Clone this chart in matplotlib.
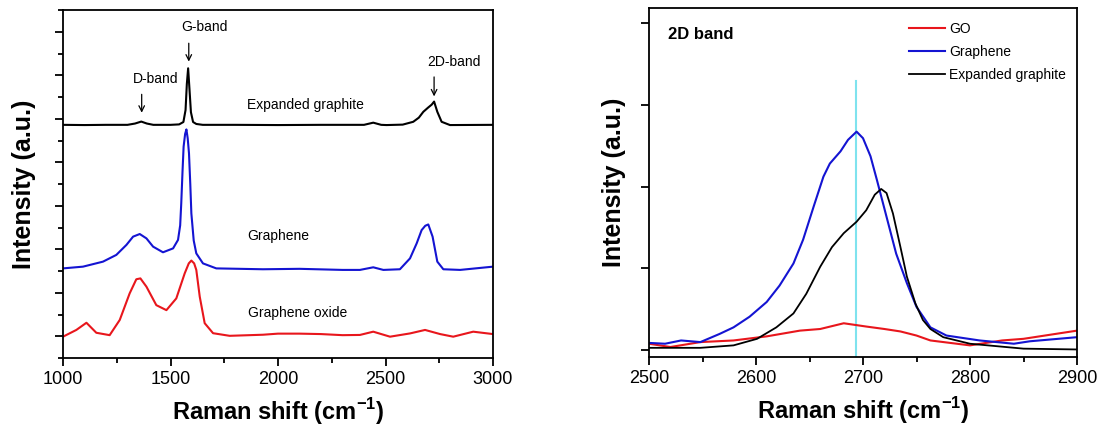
import numpy as np
import matplotlib
matplotlib.use("Agg")
import matplotlib.pyplot as plt
from matplotlib.ticker import MultipleLocator, FixedLocator

plt.rcParams['font.family'] = ['Liberation Sans', 'DejaVu Sans']
plt.rcParams['mathtext.fontset'] = 'custom'
plt.rcParams['mathtext.rm'] = 'Liberation Sans'
plt.rcParams['mathtext.bf'] = 'Liberation Sans:bold'

# --- left panel: full spectra (offset, a.u.) ---
eg_x = [1000, 1100, 1200, 1300, 1335, 1364, 1390, 1420, 1500, 1540, 1560, 1570,
        1576, 1582, 1588, 1595, 1605, 1620, 1650, 1800, 2000, 2200, 2400, 2443,
        2480, 2505, 2580, 2629, 2655, 2676, 2699, 2715, 2726, 2741, 2761, 2800, 3000]
eg_y = [10.72, 10.71, 10.72, 10.72, 10.78, 10.87, 10.78, 10.72, 10.72, 10.74, 10.85, 11.4,
        12.6, 13.32, 12.4, 11.3, 10.85, 10.76, 10.72, 10.72, 10.71, 10.72, 10.72, 10.82,
        10.72, 10.71, 10.73, 10.86, 11.05, 11.32, 11.52, 11.65, 11.79, 11.32, 10.86, 10.71, 10.72]

gr_x = [1000, 1093, 1186, 1248, 1295, 1326, 1357, 1388, 1419, 1465, 1512, 1535,
        1545, 1550, 1556, 1561, 1568, 1574, 1580, 1586, 1592, 1597, 1608, 1620,
        1651, 1713, 1930, 2100, 2300, 2381, 2443, 2490, 2567, 2614, 2645, 2668,
        2685, 2699, 2719, 2741, 2769, 2847, 3000]
gr_y = [4.12, 4.20, 4.43, 4.74, 5.20, 5.58, 5.70, 5.50, 5.12, 4.86, 5.04, 5.43,
        6.1, 7.11, 8.6, 9.72, 10.3, 10.51, 10.1, 9.41, 8.0, 6.65, 5.4, 4.81,
        4.35, 4.12, 4.08, 4.10, 4.05, 4.05, 4.17, 4.05, 4.08, 4.58, 5.27, 5.88,
        6.08, 6.14, 5.58, 4.43, 4.08, 4.05, 4.20]

go_x = [1000, 1062, 1109, 1155, 1217, 1264, 1310, 1341, 1360, 1388, 1434, 1481,
        1527, 1566, 1585, 1597, 1610, 1620, 1636, 1659, 1698, 1775, 1930, 2000,
        2100, 2200, 2300, 2381, 2443, 2521, 2614, 2684, 2754, 2815, 2908, 3000]
go_y = [0.98, 1.29, 1.62, 1.16, 1.05, 1.75, 2.97, 3.62, 3.66, 3.28, 2.43, 2.20,
        2.74, 3.89, 4.35, 4.48, 4.35, 4.05, 2.82, 1.60, 1.14, 1.02, 1.07, 1.12,
        1.12, 1.10, 1.05, 1.06, 1.21, 0.98, 1.13, 1.29, 1.10, 0.98, 1.21, 1.10]

# --- right panel: 2D band zoom ---
b_x = [2500, 2515, 2530, 2548, 2566, 2579, 2594, 2610, 2622, 2635, 2644, 2654,
       2663, 2669, 2679, 2686, 2694, 2700, 2707, 2713, 2722, 2731, 2741, 2750,
       2763, 2778, 2809, 2841, 2856, 2900]
b_y = [0.09, 0.08, 0.12, 0.10, 0.20, 0.28, 0.41, 0.59, 0.79, 1.06, 1.35, 1.76,
       2.12, 2.28, 2.43, 2.57, 2.67, 2.59, 2.37, 2.08, 1.63, 1.18, 0.82, 0.53,
       0.28, 0.18, 0.12, 0.08, 0.11, 0.16]

k_x = [2500, 2548, 2579, 2601, 2619, 2635, 2647, 2660, 2671, 2682, 2694, 2703,
       2711, 2717, 2722, 2728, 2735, 2741, 2749, 2756, 2763, 2775, 2800, 2850, 2900]
k_y = [0.03, 0.03, 0.06, 0.14, 0.28, 0.45, 0.69, 1.02, 1.26, 1.43, 1.57, 1.71,
       1.90, 1.97, 1.92, 1.67, 1.26, 0.90, 0.57, 0.37, 0.26, 0.16, 0.08, 0.02, 0.01]

r_x = [2500, 2520, 2548, 2579, 2610, 2641, 2660, 2682, 2703, 2720, 2735, 2750,
       2763, 2800, 2830, 2850, 2880, 2900]
r_y = [0.08, 0.04, 0.10, 0.12, 0.17, 0.24, 0.26, 0.33, 0.29, 0.26, 0.23, 0.18,
       0.12, 0.06, 0.12, 0.14, 0.20, 0.24]

peak_2d = 2693.5

RED = '#e8161c'
BLUE = '#1414d2'

fig = plt.figure(figsize=(11.05, 4.32), dpi=100)
ax1 = fig.add_axes([63/1105, 74/432, 430/1105, 348/432])
ax2 = fig.add_axes([649/1105, 75/432, 428/1105, 349/432])

# left
ax1.plot(eg_x, eg_y, color='black', lw=1.5)
ax1.plot(gr_x, gr_y, color=BLUE, lw=1.5)
ax1.plot(go_x, go_y, color=RED, lw=1.5)
ax1.set_xlim(1000, 3000)
ax1.set_ylim(0, 16)
ax1.xaxis.set_major_locator(MultipleLocator(500))
ax1.xaxis.set_minor_locator(MultipleLocator(250))
ax1.yaxis.set_major_locator(FixedLocator(np.arange(1, 16, 2)))
ax1.yaxis.set_minor_locator(FixedLocator(np.arange(0, 17, 2)))
ax1.set_yticklabels([])
ax1.tick_params(which='major', length=6, width=1.3, labelsize=13)
ax1.tick_params(which='minor', length=3.5, width=1.3)
ax1.set_xlabel('Raman shift (cm$^{\\mathbf{-1}}$)', fontsize=17, fontweight='bold', labelpad=6)
ax1.set_ylabel('Intensity (a.u.)', fontsize=18, fontweight='bold', labelpad=10)

ax1.text(1856, 11.64, 'Expanded graphite', fontsize=10, va='center', ha='left')
ax1.text(1856, 5.59, 'Graphene', fontsize=10, va='center', ha='left')
ax1.text(1860, 2.07, 'Graphene oxide', fontsize=10, va='center', ha='left')
arrow = dict(arrowstyle='->', color='black', lw=0.9)
ax1.annotate('', xy=(1585, 13.5), xytext=(1585, 14.6), arrowprops=arrow)
ax1.text(1660, 15.2, 'G-band', fontsize=10, ha='center', va='center')
ax1.annotate('', xy=(1366, 11.15), xytext=(1366, 12.25), arrowprops=arrow)
ax1.text(1430, 12.82, 'D-band', fontsize=10, ha='center', va='center')
ax1.annotate('', xy=(2726, 11.9), xytext=(2726, 13.05), arrowprops=arrow)
ax1.text(2819, 13.6, '2D-band', fontsize=10, ha='center', va='center')

# right
ax2.axvline(peak_2d, ymin=0, ymax=0.79, color='#7fe3ee', lw=1.5)
ax2.plot(r_x, r_y, color=RED, lw=1.5, label='GO')
ax2.plot(b_x, b_y, color=BLUE, lw=1.5, label='Graphene')
ax2.plot(k_x, k_y, color='black', lw=1.3, label='Expanded graphite')
ax2.set_xlim(2500, 2900)
ax2.set_ylim(-0.082, 4.18)
ax2.xaxis.set_major_locator(MultipleLocator(100))
ax2.xaxis.set_minor_locator(MultipleLocator(50))
ax2.yaxis.set_major_locator(MultipleLocator(1))
ax2.set_yticklabels([])
ax2.tick_params(which='major', length=6, width=1.3, labelsize=13)
ax2.tick_params(which='minor', length=3.5, width=1.3)
ax2.set_xlabel('Raman shift (cm$^{\\mathbf{-1}}$)', fontsize=17, fontweight='bold', labelpad=6)
ax2.set_ylabel('Intensity (a.u.)', fontsize=18, fontweight='bold', labelpad=7)
ax2.text(2518, 3.86, '2D band', fontsize=12, fontweight='bold', va='center')
ax2.legend(loc='upper left', bbox_to_anchor=(0.575, 1.0), frameon=False, fontsize=10,
           handlelength=2.6, handletextpad=0.3, labelspacing=0.65, borderaxespad=0.6)

for ax in (ax1, ax2):
    for s in ax.spines.values():
        s.set_linewidth(1.3)

fig.savefig('out.png', dpi=100)
